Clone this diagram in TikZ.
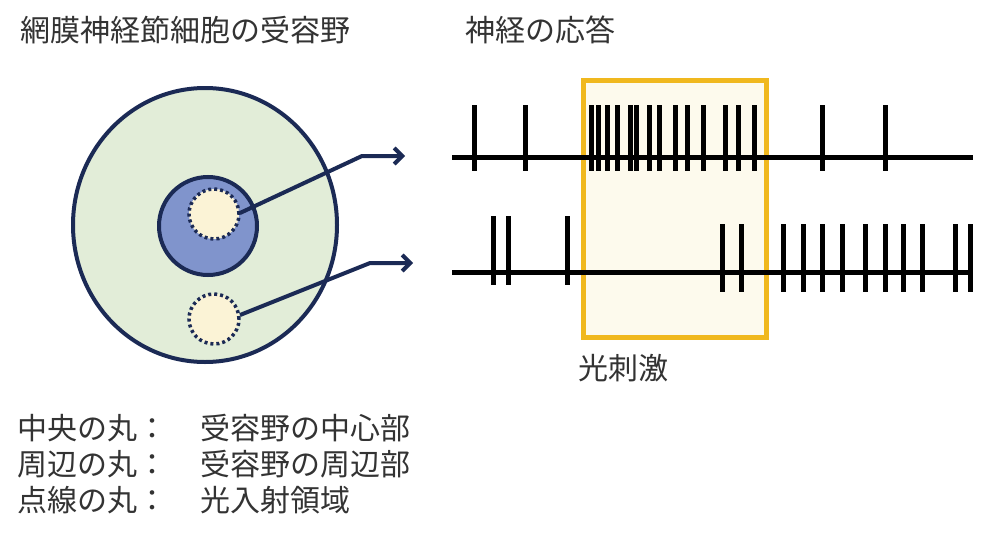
\documentclass[tikz,border=0pt]{standalone}
\usepackage{fontspec}
\setmainfont{Noto Sans CJK JP}
\usetikzlibrary{arrows.meta}
\definecolor{navy}{HTML}{1B2A55}
\definecolor{pale}{HTML}{E2EDD8}
\definecolor{blu}{HTML}{8094CC}
\definecolor{cream}{HTML}{FBF3D6}
\definecolor{gold}{HTML}{F0B81E}
\definecolor{txt}{HTML}{333333}
\begin{document}
\begin{tikzpicture}[x=1pt,y=-1pt,
  lbl/.style={anchor=west,inner sep=0pt,text=txt,font=\fontsize{30}{34}\selectfont},
  dotc/.style={draw=navy,line width=3.5pt,dash pattern=on 3pt off 3pt,fill=cream},
  conn/.style={draw=navy,line width=4pt,-{Straight Barb[length=8pt,width=16pt,line width=4pt]}},
  spike/.style={line width=5pt}]
\useasboundingbox (0,0) rectangle (1000,543);
\node[lbl] (t1) at (20,30) {網膜神経節細胞の受容野};
\node[lbl] (t2) at (465,30) {神経の応答};
% receptive field
\draw[navy,line width=4pt,fill=pale] (205,225) ellipse [x radius=132,y radius=137];
\node[circle,draw=navy,line width=4pt,fill=blu,minimum size=98pt,inner sep=0pt] (c) at (208,226) {};
\node[circle,dotc,minimum size=50pt,inner sep=0pt] (d1) at (214,214) {};
\node[circle,dotc,minimum size=50pt,inner sep=0pt] (d2) at (214,319) {};
\coordinate (a1) at (405,156);
\coordinate (a2) at (413,263);
\draw[conn] (d1.center) ++(26,-1) -- (362,156) -- (a1);
\draw[conn] (d2.center) ++(26,-4) -- (370,263) -- (a2);
% stimulus box
\node[draw=gold,line width=5.5pt,fill=cream!45,minimum width=183pt,minimum height=257pt,inner sep=0pt] (box) at (675,209) {};
\node[lbl,anchor=center] (s) at (623,368) {光刺激};
% spike trains
\draw[spike] (452,157) coordinate (l1) -- (973,157) coordinate (r1);
\foreach \x in {474,525,591,598,607,617,630,636,649,659,675,687,703,725,738,754,822,885}
  \draw[spike] (\x,105) -- (\x,171);
\draw[spike] (452,272) coordinate (l2) -- (973,272) coordinate (r2);
\foreach \x in {493,508,567} \draw[spike] (\x,216) -- (\x,285);
\foreach \x in {722,741,783,803,822,842,865,885,903,922,955,970} \draw[spike] (\x,224) -- (\x,292);
% legend
\node[lbl] (k1) at (17,428) {中央の丸：};
\node[lbl] (v1) at (200,428) {受容野の中心部};
\node[lbl] (k2) at (17,464) {周辺の丸：};
\node[lbl] (v2) at (200,464) {受容野の周辺部};
\node[lbl] (k3) at (17,500) {点線の丸：};
\node[lbl] (v3) at (200,500) {光入射領域};
\end{tikzpicture}
\end{document}
